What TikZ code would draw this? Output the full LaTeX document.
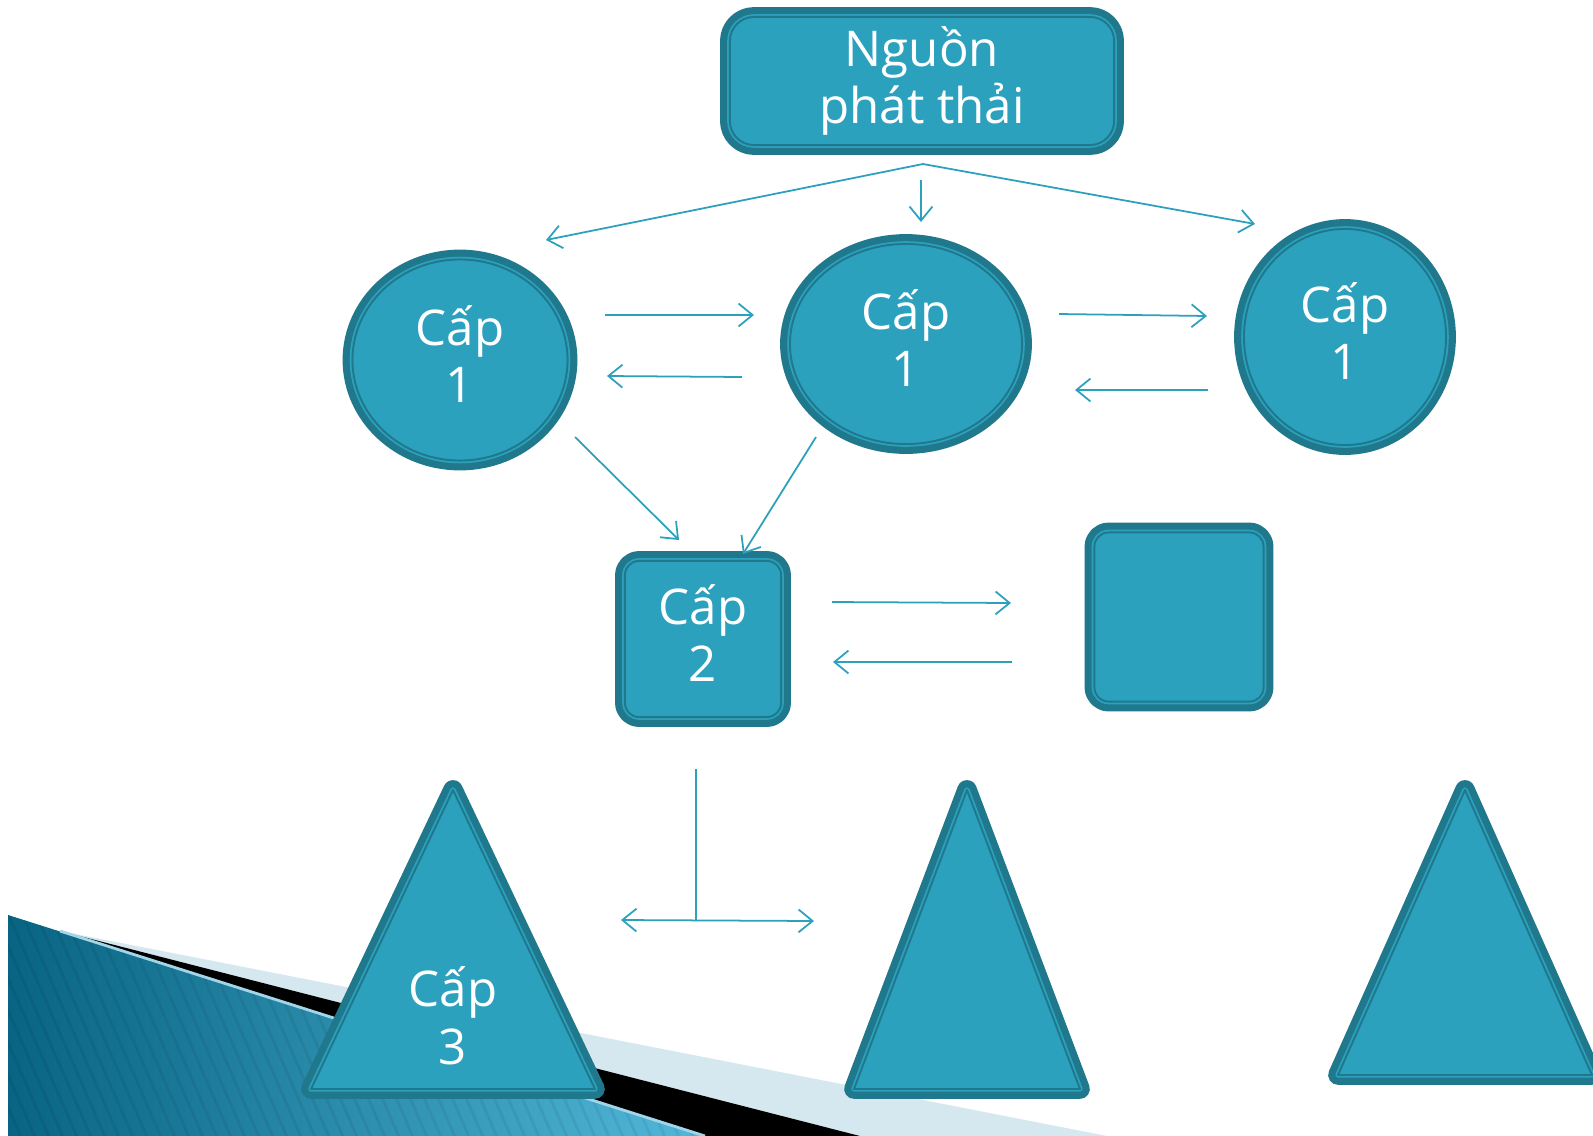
\documentclass[tikz,border=0pt]{standalone}
\usepackage{fontspec}
\setmainfont{Open Sans}
\usetikzlibrary{shapes.geometric,arrows.meta}

\begin{document}
\begin{tikzpicture}[x=0.01cm,y=-0.01cm,
  >={Straight Barb[length=4pt,width=6.5pt]},
  capbox/.style={fill=capfill,draw=capedge,line width=0.55pt,line join=round,
    preaction={draw=capedge,line width=5.6pt,line join=round},
    preaction={draw=capfill,line width=1.55pt,line join=round}},
  captext/.style={text=white,align=center,font=\fontsize{14}{16.4}\selectfont},
  oval/.style={capbox,ellipse,inner sep=0pt},
  tile/.style={capbox,rectangle,rounded corners=0.14cm,inner sep=0pt},
  inside/.style={label={[captext,yshift=1.7pt]center:{#1}}},
  link/.style={draw=capfill,line width=0.5pt}]
% Define colours
\definecolor{capfill}{RGB}{44,161,190}
\definecolor{capedge}{RGB}{31,120,140}
\definecolor{bgdark}{RGB}{8,100,130}
\definecolor{bglight}{RGB}{82,184,218}
\definecolor{bandlight}{RGB}{214,232,239}

% Page
\fill[white] (0,0) rectangle (1593,1136);
\useasboundingbox (0,0) rectangle (1593,1136);
\clip (0,0) rectangle (1593,1136);

% Slide corner decoration
\fill[bandlight] (60,931) -- (1107,1136) -- (860,1136) -- cycle;
\fill[black] (60,931) -- (860,1136) -- (705,1136) -- cycle;
\begin{scope}
  \clip (8,915) -- (705,1136) -- (8,1136) -- cycle;
  \shade[left color=bgdark,right color=bglight] (8,915) rectangle (705,1136);
  \foreach \s in {0,14,...,980}
    \draw[black,opacity=0.06,line width=0.8pt] (\s-250,900) -- ++(110,253);
\end{scope}
\draw[bandlight!60!bglight,line width=0.8pt] (60,931) -- (705,1136);

% Source
\node[tile,captext,minimum width=3.84cm,minimum height=1.28cm,rounded corners=0.24cm] (src) at (922,81) {Nguồn\\phát thải};

% Level 1
\node[oval,minimum width=2.15cm,minimum height=2.01cm,inside={Cấp\\1}] (c1a) at (460,360) {};
\node[oval,minimum width=2.32cm,minimum height=2.00cm,inside={Cấp\\1}] (c1b) at (906,344) {};
\node[oval,minimum width=2.02cm,minimum height=2.16cm,inside={Cấp\\1}] (c1c) at (1345,337) {};

% Level 2
\node[tile,minimum size=1.56cm,inside={Cấp\\2}] (c2a) at (703,639) {};
\node[tile,minimum size=1.69cm] (c2b) at (1179,617) {};

% Level 3
\draw[capbox] (453,790) -- (595,1089) -- (311,1089) -- cycle;
\node[captext] (c3a) at (453,1016) {Cấp\\3};
\draw[capbox] (967,790) -- (1080,1089) -- (854,1089) -- cycle;
\draw[capbox] (1465,790) -- (1592,1075) -- (1338,1075) -- cycle;

% Arrow ends
\coordinate (fan) at (923,164);
\coordinate (fanL) at (546,240);
\coordinate (fanR) at (1255,224);
\coordinate (fanT) at (921,180);
\coordinate (fanB) at (921,222);
\coordinate (abOut) at (605,315);
\coordinate (abIn) at (754,315);
\coordinate (baOut) at (742,377);
\coordinate (baIn) at (607,376);
\coordinate (bcOut) at (1059,314);
\coordinate (bcIn) at (1207,316);
\coordinate (cbOut) at (1208,390);
\coordinate (cbIn) at (1075,390);
\coordinate (a2Out) at (575,437);
\coordinate (a2In) at (679,540);
\coordinate (b2Out) at (816,437);
\coordinate (b2In) at (743,554);
\coordinate (sqOut) at (832,602);
\coordinate (sqIn) at (1011,603);
\coordinate (qsOut) at (1012,662);
\coordinate (qsIn) at (833,662);
\coordinate (drop) at (696,769);
\coordinate (split) at (696,920);
\coordinate (splitL) at (621,920);
\coordinate (splitR) at (814,921);

% Draw connections
\draw[link,<->] (fanL) -- (fan) -- (fanR);
\draw[link,->] (fanT) -- (fanB);
\draw[link,->] (abOut) -- (abIn);
\draw[link,->] (baOut) -- (baIn);
\draw[link,->] (bcOut) -- (bcIn);
\draw[link,->] (cbOut) -- (cbIn);
\draw[link,->] (a2Out) -- (a2In);
\draw[link,->] (b2Out) -- (b2In);
\draw[link,->] (sqOut) -- (sqIn);
\draw[link,->] (qsOut) -- (qsIn);
\draw[link] (drop) -- (split);
\draw[link,<->] (splitL) -- (splitR);
\end{tikzpicture}
\end{document}
